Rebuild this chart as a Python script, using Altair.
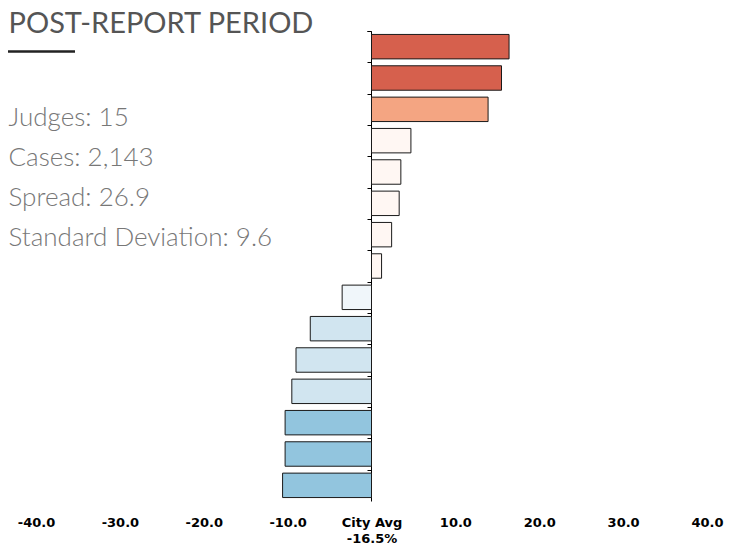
import altair as alt
import pandas as pd

# ---- data ----
judges = [f"Judge {i}" for i in range(1, 16)]
values = [16.4, 15.5, 13.9, 4.7, 3.5, 3.3, 2.4, 1.2, -3.5, -7.3, -9.0, -9.5, -10.3, -10.3, -10.6]
colors = ["#d6604d", "#d6604d", "#f4a582", "#fff7f3", "#fff7f3", "#fff7f3", "#fff7f3", "#fff7f3",
          "#f0f6fa", "#d1e5f0", "#d1e5f0", "#d1e5f0", "#92c5de", "#92c5de", "#92c5de"]
x_ticks = [-40, -30, -20, -10, 0, 10, 20, 30, 40]
title_text = "POST-REPORT PERIOD"
stats = ["Judges: 15", "Cases: 2,143", "Spread: 26.9", "Standard Deviation: 9.6"]
city_avg = "-16.5%"

df = pd.DataFrame({"judge": judges, "value": values, "color": colors})

W, H = 671, 470

bars = alt.Chart(df).mark_bar(stroke="#1a1a1a", strokeWidth=1).encode(
    x=alt.X("value:Q",
            scale=alt.Scale(domain=[-40, 40], nice=False, zero=False),
            axis=alt.Axis(values=x_ticks, title=None, grid=False, domain=False, ticks=False,
                          labelFlush=False,
                          labelFont="DejaVu Sans", labelFontWeight="bold", labelFontSize=13,
                          labelColor="#000", labelPadding=15, labelLineHeight=16,
                          labelBaseline="top",
                          labelExpr=f"datum.value == 0 ? ['City Avg', '{city_avg}'] : datum.value + '.0'")),
    y=alt.Y("judge:N", sort=judges,
            scale=alt.Scale(paddingInner=0.22, paddingOuter=0.11),
            axis=alt.Axis(title=None, labels=False, offset=-335, domainColor="#000",
                          domainWidth=1, tickColor="#000", tickSize=4, bandPosition=0,
                          tickOffset=-3.4, tickExtra=True, grid=False)),
    fill=alt.Fill("color:N", scale=None),
)

title = alt.Chart(pd.DataFrame({"t": [title_text]})).mark_text(
    align="left", baseline="alphabetic", font="Lato", fontSize=29, color="#555555"
).encode(text="t:N", x=alt.value(-27.5), y=alt.value(2))

underline = alt.Chart(pd.DataFrame({"a": [0]})).mark_rule(color="#222222", strokeWidth=2.5).encode(
    x=alt.value(-28), x2=alt.value(39), y=alt.value(20.5)
)

stat_df = pd.DataFrame({"s": stats, "i": list(range(len(stats)))})
stat_text = alt.Chart(stat_df).mark_text(
    align="left", baseline="alphabetic", font="Lato", fontWeight=300, fontSize=26, color="#777777"
).encode(
    text="s:N",
    x=alt.value(-27.5),
    y=alt.Y("i:Q", axis=None, scale=alt.Scale(domain=[0, 3], range=[95, 215], nice=False, zero=False)),
)

chart = alt.layer(bars, title, underline, stat_text).resolve_scale(y="independent").properties(
    width=W, height=H,
    autosize=alt.AutoSizeParams(type="none"),
    padding={"left": 36 - 8, "top": 31 - 8, "right": 23, "bottom": 47},
).configure_view(stroke=None)

chart.save("out.html", embed_options={"renderer": "svg", "actions": False})
